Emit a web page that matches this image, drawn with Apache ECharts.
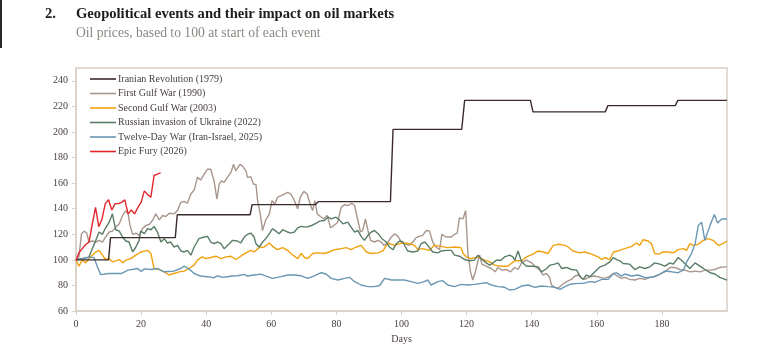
<!DOCTYPE html>
<html><head><meta charset="utf-8">
<script src="https://cdn.jsdelivr.net/npm/echarts@6/dist/echarts.min.js"></script>
<style>html,body{margin:0;padding:0;background:#fff}#c{width:774px;height:349px}</style>
</head><body><div id="c"></div>
<script>
const seriesNames = ["Iranian Revolution (1979)","First Gulf War (1990)","Second Gulf War (2003)","Russian invasion of Ukraine (2022)","Twelve-Day War (Iran-Israel, 2025)","Epic Fury (2026)"];
const seriesColors = ["#3b2b2b","#a8968d","#f0a10e","#5a7c66","#6a97b3","#e3262b"];

const iranian1979 = [[0,100],[10,100],[10.6,117.4],[30.5,117.4],[31.1,135.3],[53.5,135.3],[54.1,143.2],[73.5,143.2],[74.5,145.6],[96.6,145.6],[97.4,202],[118.5,202],[119.4,224.7],[139.6,224.7],[140.4,215.7],[162.6,215.7],[163.4,220.6],[184.1,220.6],[184.9,224.7],[200,224.7]];

const gulf1990 = [[0,100],[0.9,102.6],[1.7,120.5],[2.5,122.5],[3.3,121],[4,114],[5,114.8],[6.1,114],[7.1,115.3],[8.1,114],[9.1,117.9],[10.2,121.8],[11.2,122.5],[12.2,125.6],[13.3,128.2],[14.3,134.7],[15.3,138.6],[16,136],[16.6,127],[17.4,120],[18.4,121],[19.4,119.2],[20.4,124.4],[21.5,127],[22.5,127.7],[23.5,130.8],[24.5,136],[25.6,131.3],[26.6,134.7],[27.6,133.9],[28.6,136.5],[30.1,136],[31.2,138.6],[32.2,145],[33.2,145.8],[34.2,144.3],[35.3,151.5],[36.3,154.6],[37.3,164.5],[38.3,162.4],[39.4,167],[40.4,170.9],[41.4,170.9],[42.4,161.9],[43.3,147.6],[44,159.3],[44.7,161.9],[45.5,160.6],[46.5,164.5],[47.6,168.3],[48.4,174.8],[49.1,169.6],[49.6,168.3],[50.4,174.8],[51.1,173.5],[52.2,169.6],[52.7,164.5],[53.7,165],[54.5,159.3],[55.3,158.8],[55.8,146.3],[56.6,136],[57.3,123],[58.3,131.3],[59.4,136],[60.2,146.3],[61.1,143.7],[61.9,148.9],[63,150.2],[64,151.5],[65,152.8],[66,151.5],[67.1,146.3],[68.1,139.9],[68.9,149],[70,153.6],[71,151.5],[72,143.2],[72.7,138.6],[73.4,146.3],[74.1,136],[75.1,133.9],[76.1,132.1],[77.2,134.7],[78.2,125.1],[79.2,126.9],[80.4,129.5],[81.5,141.2],[82.5,143.2],[83.5,142.5],[84.7,144.3],[85.6,142.5],[86.6,130.8],[87.4,121.8],[88.1,123],[88.9,132.1],[89.7,123],[90.5,115.3],[91.7,114],[92.8,115.3],[93.8,114],[94.6,111.4],[95.6,113.2],[96.9,117.9],[97.9,120.5],[98.9,118.4],[100,114],[100.9,112.7],[102.4,111.4],[103.5,114],[104.5,117.4],[105.5,118.4],[106.5,119.2],[107.6,123],[108.6,122.5],[109.6,114],[110.6,110.1],[111.7,108],[112.4,120],[113.7,117.9],[115.3,117.9],[116.3,120],[117.1,121],[117.8,132.9],[118.9,132.1],[119.7,138.6],[120.4,105],[121.2,90.7],[121.9,84.3],[122.7,90.7],[123.3,97.2],[124,103.7],[124.7,96.7],[126,95.1],[127.6,93.3],[128.8,90.7],[129.6,94.1],[130.9,92],[132.2,92.5],[133.5,90.7],[134.8,94.1],[135.8,92.5],[136.9,97.7],[138.4,99.8],[140,97.7],[141,95.1],[142.5,92],[143.5,88.2],[144.5,89.4],[145.4,86.9],[146.1,80.4],[147.1,78.6],[148.1,77.8],[149.2,80.4],[150.7,83],[152.2,84.8],[153.3,87.4],[154.3,88.2],[155.3,85.6],[156.3,84.8],[157.9,86.9],[159.4,87.4],[161,86.4],[162.5,85.6],[164,87.4],[165.1,89.4],[166.6,86.9],[167.6,85.6],[168.6,86.4],[170.1,84.8],[171.7,84.3],[173.2,85.6],[174.8,84.8],[176.3,86.4],[177.8,86.9],[179.4,88.9],[180.9,90.7],[182.5,94.1],[184,94.1],[185.5,92.5],[187.1,92],[188.6,90.7],[190.2,91.2],[191.7,90.7],[193.2,92],[194.8,92],[196.3,92.5],[197.8,94.1],[199.4,94.6],[200,94.6]];

const gulf2003 = [[0,100],[0.9,95.1],[2,100],[3,97.7],[4,101],[5,103.7],[6.1,106.2],[7.1,107.5],[8.1,103.7],[9.1,100.3],[10.2,101],[11.2,98.5],[12.2,99.3],[13.3,100.3],[14.3,97.7],[15.3,99.8],[16.8,101],[18.4,103.7],[19.9,106.2],[22,107.5],[23,105],[24,93.3],[25.6,92.5],[27.1,90.7],[28.6,88.2],[30.1,89.4],[31.7,90.7],[33.2,91.2],[34.7,93.3],[36.3,95.9],[37.3,99.8],[38.8,102.4],[39.9,101],[41.4,101.9],[43,102.9],[44.5,101],[46.1,102.4],[47.6,102.9],[49.1,100.3],[50.6,102.9],[52.2,105.5],[53.7,107.5],[54.7,106.2],[56.3,109.6],[57.8,110.1],[59.4,113.2],[60.4,110.6],[61.9,108],[63.5,109.6],[65,107.5],[66,105],[68.1,101],[69.2,105],[70.2,101.9],[71.2,101],[72.7,105],[74.3,105.5],[76.3,105],[77.8,106.2],[79.4,108],[81.5,108.8],[83,109.6],[84.5,108],[86.1,110.1],[87.6,111.4],[89.2,106.2],[90.7,105],[92.8,105.5],[94.3,107],[95.8,113.2],[97.9,111.4],[99.4,112.7],[100.9,113.2],[102.4,112.7],[104,111.4],[105,108],[106.5,108.8],[108.6,107.5],[110.1,111.4],[112.2,110.6],[114.2,109.6],[116.3,110.1],[118.3,109.6],[118.9,105],[119.9,102.4],[121.4,101],[123.5,102.4],[125.5,99.8],[127.1,98.5],[128.6,95.9],[130.6,95.1],[132.7,95.1],[133.7,97.2],[134.8,99.3],[136.9,99.3],[138.4,102.4],[140.4,104.5],[142,107],[143.5,106.2],[145,105],[146.6,111.4],[148.1,112.2],[150.2,111.4],[151.2,110.1],[152.7,107],[154.8,105.5],[156.3,106.2],[158.4,104.5],[160.4,102.4],[161.5,100.3],[162.5,101.9],[164,100.3],[165.1,106.2],[166.6,107],[167.6,108],[168.6,108.8],[170.7,110.6],[172.2,113.2],[173.2,111.4],[174.2,115.8],[175.8,114.8],[176.8,112.7],[177.8,105],[178.9,104.5],[180.4,106.2],[181.9,106.2],[183.5,105.5],[185,108],[186.6,108.8],[187.6,107.5],[188.6,112.7],[189.6,111.4],[191.2,112.2],[192.7,115.3],[194.2,116.6],[195.7,115.3],[197.3,111.4],[198.8,112.7],[200,114.8]];

const ukraine2022 = [[0,100],[1.5,101],[3,101.6],[4,102.4],[5,108.8],[6.1,115.3],[7.1,121.8],[8.1,120],[9.1,125.1],[10.2,129.5],[11.2,136],[11.7,129.5],[12.2,123.6],[13.3,122.5],[14.3,117.9],[15.3,114.8],[16.3,114],[17.4,106.2],[18.4,110.1],[19.4,115.3],[19.9,122.5],[21,120.5],[22,124.4],[23,123.6],[24,126.2],[25,121.8],[26.1,114],[27.1,116.6],[28.1,113.2],[29.1,114],[30.1,110.1],[31.2,111.4],[32.2,107],[33.2,106.2],[34.2,107.5],[35.3,103.7],[36.3,110.1],[37.8,116.6],[39.4,117.9],[40.4,118.4],[41.4,114],[42.4,112.7],[43.5,114],[44.5,112.7],[45.5,108.8],[47.1,112.7],[48.1,115.3],[49.6,114.8],[50.6,113.2],[51.7,117.9],[52.7,120],[53.7,121],[54.7,117.9],[55.3,112.7],[56.3,110.1],[57.3,114],[58.3,116.6],[59.4,120.5],[60.4,124.4],[61.4,122.5],[62.4,120.5],[63.5,123.6],[65,121.8],[66,121],[67.1,121.8],[68.1,125.1],[69.2,126.2],[70.7,125.6],[72.2,126.7],[73.8,128.8],[74.8,130.3],[76.3,130.8],[77.4,133.4],[78.4,132.1],[79.9,133.4],[80.9,131.3],[82,128.2],[83.5,129.5],[84.5,125.6],[85.6,121.8],[86.6,123],[87.6,118.4],[88.6,115.3],[89.7,119.2],[90.7,121.8],[91.7,123],[92.8,120.5],[94,116.6],[95.3,114],[96.3,110.1],[97.4,108],[98.4,112.7],[99.4,114.8],[100.4,114],[100.9,112.7],[101.9,107],[103.5,106.2],[105,107],[106,112.7],[107.1,114],[108.1,111.4],[109.6,106.2],[111.2,105.5],[112.2,107],[113.7,107.5],[115.3,107.5],[116.3,103.7],[117.8,102.9],[119.4,100.3],[120.9,99.3],[122.4,99.8],[123.5,103.7],[124.5,101],[126,97.7],[127.1,95.9],[128.1,97.7],[129.1,99.8],[130.6,99.8],[131.7,102.4],[133.2,103.7],[134.2,102.4],[134.8,99.8],[135.8,107],[136.9,98.5],[138.4,95.1],[140.4,95.1],[142,94.6],[143,90.7],[144.6,93.3],[145.6,95.9],[147.1,96.7],[148.1,97.7],[149.2,93.3],[150.7,94.1],[152.2,92.5],[153.8,92],[154.8,87.4],[155.8,84.8],[156.8,88.2],[157.9,86.9],[159.4,90.7],[161,94.6],[162.5,95.9],[164,98.5],[165.1,101.9],[166.1,100.3],[167.1,99.3],[168.1,97.2],[168.6,97.7],[170.1,96.7],[171.7,92.5],[173.2,94.6],[174.8,93.3],[176.3,94.6],[177.8,97.7],[179.4,96.7],[180.9,95.1],[182.5,97.7],[183.5,96.7],[185,101.9],[186,99.8],[187.6,95.9],[188.6,93.3],[190.2,97.7],[191.7,95.1],[193.2,92.5],[194.8,90],[196.3,89],[197.8,86.4],[199.4,84.8],[200,84.3]];

const twelveDay2025 = [[0,100],[2,101],[4,102],[5.5,102],[6.5,95],[7.6,88.5],[10,89.4],[12,89.4],[14,89.4],[16,92],[19,93.3],[20,91],[21,93],[23,92.5],[25,93.3],[27,90.7],[30,91.2],[32.2,93.3],[33.2,95.1],[34.7,93],[36.3,89.4],[38.3,87.4],[40.4,86.9],[42.4,86.1],[43.5,87.6],[45,86.4],[46.5,86.9],[48,87.4],[49.6,87.6],[51.7,88.7],[52.7,87.4],[54.7,88.2],[56.8,88.9],[58.8,86.9],[60.4,85.6],[63,86.9],[65,88.2],[67,88.2],[69.2,87.6],[71.2,85.6],[73.2,87.6],[75.3,90],[76.8,89],[78.4,85.6],[80.4,84.3],[82.5,85.6],[84,86.4],[85.6,83],[87.6,80.4],[89.7,79.1],[91.7,79.1],[93.3,80],[94.8,85.6],[96.9,84.3],[98.9,84.3],[100.9,84.3],[103,83],[105,81.7],[107,83],[108.1,84.3],[109.1,80.4],[111.2,83],[112.7,83.8],[114.2,80.4],[116.3,79.1],[118.3,80.9],[120.4,80.4],[122.4,80.9],[124.5,81.7],[126,82.2],[127.6,80.4],[129.6,79.1],[131.7,78.6],[133.2,76.5],[134.8,77],[136.9,79.6],[138.9,80.4],[141,78.6],[143,79.6],[145,79.1],[147.1,78.6],[148.7,77],[150.2,79.1],[152.2,81.2],[154.3,81.7],[155.8,81.7],[157.9,83],[159.4,82.5],[161.5,84.8],[163.5,84.8],[165.1,89.4],[166.1,89.9],[167.6,87.4],[168.6,89],[170.6,87.4],[172.7,88.2],[174.8,86.1],[176.8,86.4],[178.9,88.2],[180.9,91.3],[183,90.7],[185,90],[186.6,92],[187.6,98.5],[189.1,105],[190.2,112.7],[191.2,127],[192.2,129.5],[193.2,115.3],[194.8,127],[196.1,135.5],[197.1,128.8],[198.4,132],[200,132]];

const epicFuryDays = [0,1,2,3,4,5,6,7,8,9,10,11,12,13,14,15,16,17,18,19,20,21,22,23,24,25,26];
const epicFuryValues = [100,106,109,112,114,128,141,126,132,144,147,139,144,144,145,147,136,139,136,141,145,154,151,149,166,167,168];

const yTicksMin = 60, yTicksMax = 250, yInterval = 20;
const xMin = 0, xMax = 200, xInterval = 20;

const epicFury = epicFuryDays.map((d,i)=>[d, epicFuryValues[i]]);
const allData = [iranian1979, gulf1990, gulf2003, ukraine2022, twelveDay2025, epicFury];

const serif = "'Liberation Serif', 'DejaVu Serif', serif";
const axisCol = "#d9d0c8";
const chart = echarts.init(document.getElementById('c'), null, {renderer:'canvas'});
const drawOrder = [1,2,3,4,0,5];
chart.setOption({
  animation:false,
  backgroundColor:'#ffffff',
  graphic:[
    {type:'rect', left:0, top:0, shape:{width:2, height:48}, style:{fill:'#2a2a2a'}},
    {type:'text', left:45, top:7, style:{text:'2.', font:"bold 14.6px "+serif, fill:'#1d1d1d'}},
    {type:'text', left:76, top:7, style:{text:'Geopolitical events and their impact on oil markets', font:"bold 14.6px "+serif, fill:'#1d1d1d'}},
    {type:'text', left:76, top:26, style:{text:'Oil prices, based to 100 at start of each event', font:"13.6px "+serif, fill:'#8d8782'}}
  ],
  grid:{left:76, right:47, top:68, bottom:36, show:true, borderColor:axisCol, borderWidth:1.5, containLabel:false},
  legend:{
    data:seriesNames, orient:'vertical', left:85, top:68, icon:'rect', itemWidth:26, itemHeight:1.6,
    itemGap:2.5, textStyle:{fontFamily:serif, fontSize:10, color:'#4a4040', lineHeight:12, padding:[0,0,0,-3]}
  },
  xAxis:{
    type:'value', min:xMin, max:xMax, interval:xInterval,
    name:'Days', nameLocation:'middle', nameGap:22, nameTextStyle:{fontFamily:serif, fontSize:10, color:'#4a4040'},
    axisLine:{show:true, lineStyle:{color:axisCol, width:1.5}},
    axisTick:{show:true, length:4, lineStyle:{color:axisCol}},
    axisLabel:{fontFamily:serif, fontSize:10, color:'#4a4040', margin:8, showMaxLabel:false},
    splitLine:{show:false}
  },
  yAxis:{
    type:'value', min:yTicksMin, max:yTicksMax, interval:yInterval,
    axisLine:{show:true, lineStyle:{color:axisCol, width:1.5}},
    axisTick:{show:true, length:4, lineStyle:{color:axisCol}},
    axisLabel:{fontFamily:serif, fontSize:10, color:'#4a4040', margin:8, showMaxLabel:false},
    splitLine:{show:false}
  },
  series: drawOrder.map(i=>({
    name:seriesNames[i], type:'line', data:allData[i], showSymbol:false, symbol:'none',
    lineStyle:{color:seriesColors[i], width:1.4}, itemStyle:{color:seriesColors[i]}, z: i===5?5:(i===0?4:2)
  }))
});
</script></body></html>
